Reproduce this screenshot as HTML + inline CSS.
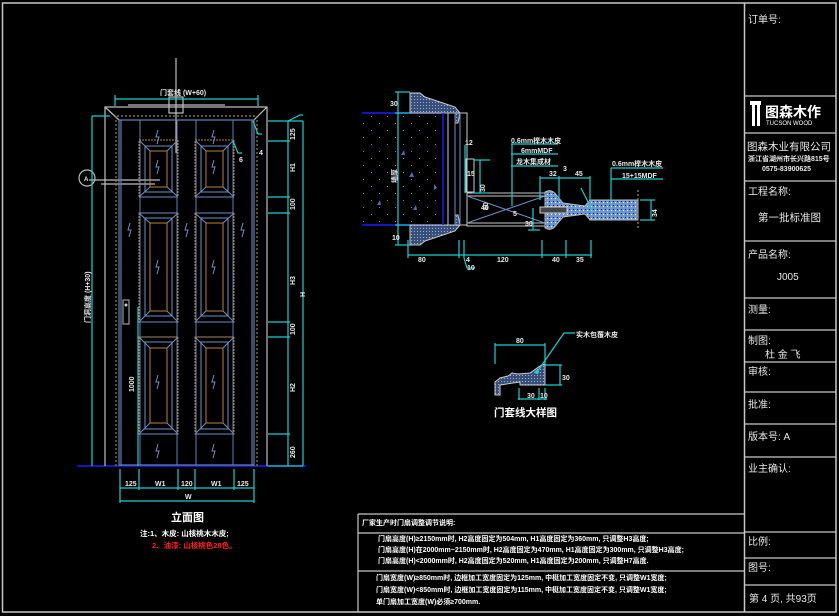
<!DOCTYPE html>
<html><head><meta charset="utf-8"><style>
html,body{margin:0;padding:0;background:#000;}
svg{display:block;}
text{font-family:"Liberation Sans","Noto Sans CJK SC","WenQuanYi Zen Hei",sans-serif;}
</style></head><body>
<svg width="839" height="616" viewBox="0 0 839 616" xmlns="http://www.w3.org/2000/svg">
<rect width="839" height="616" fill="#000"/>
<defs>
<pattern id="dots" width="16" height="14" patternUnits="userSpaceOnUse"><rect x="3" y="4" width="1" height="1" fill="#6a8fd0"/><rect x="11" y="11" width="1" height="1" fill="#6a8fd0"/></pattern>
<pattern id="hatch" width="3" height="3" patternUnits="userSpaceOnUse"><rect width="3" height="3" fill="#3a4f78"/><rect width="1" height="1" fill="#8fb0e0"/></pattern>
<pattern id="speck" width="4" height="4" patternUnits="userSpaceOnUse"><rect width="4" height="4" fill="#6c95d6"/><rect x="1" y="1" width="1" height="1" fill="#123"/><rect x="3" y="2" width="1" height="1" fill="#fff"/></pattern>
</defs>
<rect x="2.5" y="3" width="833.5" height="609" fill="none" stroke="#c8c8c8" stroke-width="1.5"/>
<line x1="744.5" y1="3" x2="744.5" y2="612" stroke="#c8c8c8" stroke-width="1.5"/>
<g stroke="#c8c8c8" stroke-width="1.2">
<line x1="745" y1="96" x2="836" y2="96"/><line x1="745" y1="133" x2="836" y2="133"/>
<line x1="745" y1="181" x2="836" y2="181"/><line x1="745" y1="241" x2="836" y2="241"/>
<line x1="745" y1="298" x2="836" y2="298"/><line x1="745" y1="330" x2="836" y2="330"/>
<line x1="745" y1="362" x2="836" y2="362"/><line x1="745" y1="392" x2="836" y2="392"/>
<line x1="745" y1="424" x2="836" y2="424"/><line x1="745" y1="457" x2="836" y2="457"/>
<line x1="745" y1="532" x2="836" y2="532"/><line x1="745" y1="558" x2="836" y2="558"/>
<line x1="745" y1="585" x2="836" y2="585"/>
</g>
<g fill="#e8e8e8" font-size="10">
<text x="748" y="23">订单号:</text>
<text x="747" y="150" font-size="10.5">图森木业有限公司</text>
<text x="748" y="161" font-size="7" font-weight="bold">浙江省湖州市长兴路815号</text>
<text x="762" y="171" font-size="7" font-weight="bold">0575-83900625</text>
<text x="748" y="195">工程名称:</text>
<text x="758" y="221" font-size="10.5">第一批标准图</text>
<text x="748" y="258">产品名称:</text>
<text x="777" y="280">J005</text>
<text x="748" y="313">测量:</text>
<text x="748" y="344">制图:</text>
<text x="765" y="358">杜 金 飞</text>
<text x="748" y="375">审核:</text>
<text x="748" y="408">批准:</text>
<text x="748" y="440">版本号: A</text>
<text x="748" y="472">业主确认:</text>
<text x="748" y="545">比例:</text>
<text x="748" y="571">图号:</text>
<text x="749" y="602">第 4 页, 共93页</text>
</g>
<rect x="750" y="101" width="11" height="4" fill="#fff"/><rect x="752" y="104" width="3" height="22" fill="#fff"/><rect x="757" y="104" width="3" height="22" fill="#fff"/>
<text x="765" y="117" font-size="14" font-weight="bold" fill="#fff">图森木作</text>
<text x="766" y="125" font-size="6" fill="#fff">TUCSON WOOD</text>

<g stroke="#c8c8c8" stroke-width="1.2" fill="none">
<line x1="358" y1="514" x2="745" y2="514"/><line x1="358" y1="533" x2="745" y2="533"/>
<line x1="358" y1="571" x2="745" y2="571"/><line x1="358" y1="514" x2="358" y2="612"/>
</g>
<g fill="#fff" font-size="7" font-weight="bold">
<text x="362" y="525">厂家生产时门扇调整调节说明:</text>
<text x="378" y="541">门扇高度(H)≥2150mm时, H2高度固定为504mm, H1高度固定为360mm, 只调整H3高度;</text>
<text x="378" y="552">门扇高度(H)在2000mm~2150mm时, H2高度固定为470mm, H1高度固定为300mm, 只调整H3高度;</text>
<text x="378" y="563">门扇高度(H)&lt;2000mm时, H2高度固定为520mm, H1高度固定为200mm, 只调整H7高度.</text>
<text x="376" y="580">门扇宽度(W)≥850mm时, 边框加工宽度固定为125mm, 中梃加工宽度固定不变, 只调整W1宽度;</text>
<text x="376" y="592">门扇宽度(W)&lt;850mm时, 边框加工宽度固定为115mm, 中梃加工宽度固定不变, 只调整W1宽度;</text>
<text x="376" y="604">单门扇加工宽度(W)必须≥700mm.</text>
</g>

<line x1="77" y1="466" x2="306" y2="466" stroke="#1a1aff" stroke-width="1.5"/>
<g stroke="#bdbdbd" stroke-width="1.2" fill="none">
<polyline points="105,466 105,107 267,107 267,466"/>
<line x1="105" y1="107" x2="119" y2="120"/><line x1="267" y1="107" x2="254" y2="120"/>
<line x1="128" y1="105" x2="225" y2="105"/>
<line x1="89" y1="180" x2="160" y2="180"/><line x1="101" y1="184" x2="155" y2="184"/>
<line x1="176" y1="58" x2="176" y2="153"/>
<rect x="169" y="97" width="14" height="16"/>
<circle cx="87" cy="178" r="8"/>
</g>
<line x1="116" y1="116" x2="116" y2="466" stroke="#9a8a20" stroke-width="1.2" stroke-dasharray="2,2"/>
<line x1="257" y1="116" x2="257" y2="466" stroke="#9a8a20" stroke-width="1.2" stroke-dasharray="2,2"/>
<line x1="117" y1="116" x2="256" y2="116" stroke="#9a8a20" stroke-width="1.2" stroke-dasharray="2,2"/>
<g stroke="#5f7fb4" stroke-width="1.2" fill="none">
<polyline points="119,466 119,120 254,120 254,466"/>
<line x1="121" y1="466" x2="121" y2="120"/><line x1="252" y1="466" x2="252" y2="120"/>
<line x1="119" y1="465" x2="254" y2="465"/>
</g>
<g id="col">
<g fill="none" stroke-width="1">
<line x1="140" y1="120" x2="140" y2="465" stroke="#5f7fb4"/><line x1="177" y1="120" x2="177" y2="465" stroke="#5f7fb4"/>
<rect x="139" y="140" width="39" height="57" stroke="#b8823c" stroke-dasharray="2,1"/>
<rect x="150" y="151" width="17" height="36" stroke="#b8823c"/>
<rect x="145" y="146" width="27" height="46" stroke="#6d8fc4"/>
<path d="M140,141 L150,151 M177,141 L167,151 M140,196 L150,187 M177,196 L167,187" stroke="#6d8fc4"/>
<rect x="139" y="213" width="39" height="109" stroke="#b8823c" stroke-dasharray="2,1"/>
<rect x="150" y="223" width="17" height="88" stroke="#b8823c"/>
<rect x="145" y="218" width="27" height="98" stroke="#6d8fc4"/>
<path d="M140,214 L150,223 M177,214 L167,223 M140,321 L150,311 M177,321 L167,311" stroke="#6d8fc4"/>
<path d="M139,197 L178,197 M139,213 L178,213 M139,322 L178,322 M139,337 L178,337" stroke="#6d8fc4"/>
<rect x="139" y="337" width="39" height="97" stroke="#b8823c" stroke-dasharray="2,1"/>
<rect x="150" y="348" width="17" height="75" stroke="#b8823c"/>
<rect x="145" y="342" width="27" height="87" stroke="#6d8fc4"/>
<path d="M140,338 L150,348 M177,338 L167,348 M140,433 L150,423 M177,433 L167,423 M139,434 L178,434" stroke="#6d8fc4"/>
<path d="M158,130 l-2,7 3,0 -2,7 M158,160 l-2,7 3,0 -2,7 M158,260 l-2,7 3,0 -2,7 M158,375 l-2,7 3,0 -2,7 M158,444 l-2,7 3,0 -2,7" stroke="#6d8fc4"/>
</g>
</g>
<use href="#col" x="56"/>
<path d="M130,223 l-2,7 3,0 -2,7 M187,223 l-2,7 3,0 -2,7 M243,223 l-2,7 3,0 -2,7" stroke="#6d8fc4" fill="none"/>
<rect x="123" y="300" width="6" height="24" fill="none" stroke="#999" stroke-width="1.2"/>
<circle cx="126" cy="305" r="1.5" fill="#ccc"/>
<g stroke="#1ad0d0" stroke-width="1.2" fill="none">
<line x1="115" y1="99" x2="258" y2="99"/><line x1="115" y1="95" x2="115" y2="106"/><line x1="258" y1="95" x2="258" y2="106"/>
<line x1="92" y1="116" x2="92" y2="466"/><line x1="92" y1="116" x2="110" y2="116"/>
<line x1="288" y1="121" x2="288" y2="466"/><line x1="303" y1="121" x2="303" y2="466"/>
<line x1="268" y1="121" x2="303" y2="121"/><line x1="268" y1="141" x2="290" y2="141"/>
<line x1="268" y1="197" x2="290" y2="197"/><line x1="268" y1="213" x2="290" y2="213"/>
<line x1="268" y1="322" x2="290" y2="322"/><line x1="268" y1="337" x2="290" y2="337"/>
<line x1="268" y1="434" x2="290" y2="434"/><line x1="268" y1="466" x2="303" y2="466"/>
<polyline points="288,121 300,115 303,115"/>
<line x1="138" y1="307" x2="138" y2="466"/>
<polyline points="253,121 258,134 262,134"/><polyline points="233,141 238,153 242,153"/>
<line x1="120" y1="488" x2="254" y2="488"/><line x1="120" y1="501" x2="254" y2="501"/>
<path d="M120,469 V503 M139,469 V490 M178,469 V490 M195,469 V490 M234,469 V490 M254,469 V503"/>
</g>
<g fill="#e8e8e8" font-size="7" font-weight="bold">
<text x="160" y="95">门套线 (W+60)</text>
<text x="125" y="486">125</text><text x="155" y="486">W1</text><text x="181" y="486">120</text><text x="211" y="486">W1</text><text x="237" y="486">125</text>
<text x="185" y="499">W</text>
<text x="259" y="155">4</text><text x="239" y="162">6</text>
<text x="84" y="181" font-size="6">A</text>
<g transform="rotate(-90)">
<text x="-140" y="295">125</text><text x="-172" y="295">H1</text><text x="-210" y="295">100</text>
<text x="-285" y="295">H3</text><text x="-335" y="295">100</text><text x="-392" y="295">H2</text><text x="-458" y="295">260</text>
<text x="-297" y="305">H</text><text x="-323" y="90">门洞高度 (H+30)</text><text x="-392" y="134">1000</text>
</g>
</g>
<text x="171" y="521" font-size="11" font-weight="bold" fill="#fff">立面图</text>
<text x="140" y="536" font-size="7.5" font-weight="bold" fill="#fff">注:1、木皮: 山核桃木木皮;</text>
<text x="152" y="548" font-size="7.5" font-weight="bold" fill="#ff2020">2、油漆: 山核桃色28色。</text>

<rect x="362" y="113" width="81" height="112" fill="url(#dots)"/>
<g fill="#4d6fb0"><path d="M404,150 l-3,5 4,0z"/><path d="M412,172 l-3,5 5,0z"/><path d="M437,188 l-3,-4 0,6z"/><path d="M416,205 l-3,5 4,0z"/><path d="M380,200 l-3,5 4,0z"/></g>
<line x1="362" y1="113" x2="443" y2="113" stroke="#1a1aff" stroke-width="1.5"/>
<line x1="362" y1="225" x2="443" y2="225" stroke="#1a1aff" stroke-width="1.5"/>
<path d="M410,93 L420,93 L425,97 L440,102 L455,107 L460,113 L458,123 L455,123 L455,113 L410,113Z" fill="url(#hatch)" stroke="#ccc" stroke-width="1"/>
<path d="M410,245 L420,245 L425,241 L440,236 L455,231 L460,225 L458,215 L455,215 L455,225 L410,225Z" fill="url(#hatch)" stroke="#ccc" stroke-width="1"/>
<g stroke="#c8c8c8" fill="none" stroke-width="1">
<rect x="443" y="113" width="24" height="112"/><line x1="448" y1="113" x2="448" y2="225"/>
<line x1="455" y1="113" x2="455" y2="225" stroke="#6d8fc4"/><line x1="460" y1="113" x2="460" y2="225" stroke="#6d8fc4"/>
<rect x="466" y="159" width="8" height="33"/>
<rect x="467" y="193" width="78" height="33"/><line x1="467" y1="196" x2="545" y2="196"/><line x1="467" y1="223" x2="545" y2="223"/>
<line x1="467" y1="196" x2="545" y2="223" stroke="#6d8fc4"/><line x1="467" y1="223" x2="545" y2="196" stroke="#6d8fc4"/>
</g>
<line x1="443" y1="113" x2="443" y2="225" stroke="#1a1aff" stroke-width="1.5"/>
<path d="M545,192 Q552,188 557,196 L563,203 L585,206 L590,200 L638,200 L638,220 L590,220 L585,214 L563,217 L557,224 Q552,232 545,228Z" fill="url(#speck)" stroke="#bbb" stroke-width="1"/>
<rect x="540" y="207" width="27" height="6" fill="#444" stroke="#ccc" stroke-width="1"/>
<line x1="638" y1="190" x2="638" y2="230" stroke="#aa9a20" stroke-dasharray="2,2" stroke-width="1.2"/>
<g stroke="#1ad0d0" stroke-width="1.2" fill="none">
<line x1="398" y1="92" x2="398" y2="245"/><line x1="395" y1="92" x2="410" y2="92"/><line x1="395" y1="245" x2="410" y2="245"/>
<line x1="395" y1="113" x2="410" y2="113"/><line x1="395" y1="225" x2="410" y2="225"/>
<line x1="408" y1="255" x2="592" y2="255"/>
<path d="M408,240 V258 M459,240 V258 M464,240 V258 M542,240 V258 M566,240 V258 M591,240 V258"/>
<polyline points="464,258 467,268 475,268"/>
<line x1="465" y1="145" x2="465" y2="193"/><line x1="480" y1="160" x2="480" y2="193"/><line x1="474" y1="160" x2="490" y2="160"/>
<line x1="472" y1="193" x2="488" y2="193"/>
<line x1="511" y1="144" x2="558" y2="144"/><line x1="511" y1="154" x2="558" y2="154"/><line x1="511" y1="166" x2="558" y2="166"/>
<line x1="512" y1="144" x2="512" y2="206"/>
<line x1="540" y1="178" x2="590" y2="178"/><line x1="540" y1="176" x2="540" y2="200"/><line x1="590" y1="176" x2="590" y2="200"/><line x1="559" y1="176" x2="559" y2="200"/>
<line x1="581" y1="188" x2="593" y2="212"/>
<line x1="611" y1="168" x2="663" y2="168"/><line x1="611" y1="179" x2="663" y2="179"/><line x1="611" y1="168" x2="611" y2="202"/>
<line x1="640" y1="200" x2="655" y2="200"/><line x1="640" y1="220" x2="655" y2="220"/><line x1="651" y1="200" x2="651" y2="220"/>
<line x1="533" y1="208" x2="533" y2="230"/><line x1="528" y1="230" x2="540" y2="230"/>
</g>
<g fill="#e8e8e8" font-size="7" font-weight="bold">
<text x="390" y="106">30</text><text x="392" y="240">10</text>
<text x="418" y="262">80</text><text x="466" y="262">4</text><text x="497" y="262">120</text><text x="552" y="262">40</text><text x="576" y="262">35</text>
<text x="467" y="270">10</text>
<text x="465" y="145">12</text><text x="467" y="176">15</text>
<text x="511" y="143">0.6mm榉木木皮</text><text x="521" y="153">6mmMDF</text><text x="516" y="164">龙木集成材</text>
<text x="549" y="176">32</text><text x="563" y="171">3</text><text x="575" y="176">45</text>
<text x="612" y="166">0.6mm榉木木皮</text><text x="622" y="178">15+15MDF</text>
<text x="481" y="210">40</text><text x="513" y="216">5</text><text x="525" y="226">30</text>
<g transform="rotate(-90)"><text x="-183" y="397">墙厚</text><text x="-217" y="657">34</text><text x="-192" y="485">30</text><text x="-210" y="488">60</text></g>
</g>

<path d="M495,382 L500,378 L508,376 L512,373 L518,374 L530,373 L540,366 L545,364 L545,385 L520,385 L520,382 L500,385 L500,395 L495,395Z" fill="url(#hatch)" stroke="#ccc" stroke-width="1"/>
<g stroke="#1ad0d0" stroke-width="1.2" fill="none">
<line x1="495" y1="345" x2="545" y2="345"/><line x1="495" y1="343" x2="495" y2="364"/><line x1="545" y1="343" x2="545" y2="364"/>
<line x1="545" y1="365" x2="562" y2="365"/><line x1="545" y1="385" x2="562" y2="385"/><line x1="560" y1="365" x2="560" y2="385"/>
<line x1="519" y1="388" x2="519" y2="400"/><line x1="539" y1="388" x2="539" y2="400"/><line x1="545" y1="388" x2="545" y2="400"/>
<line x1="518" y1="399" x2="547" y2="399"/>
<polyline points="537,372 564,333 575,333"/>
</g>
<circle cx="537" cy="372" r="2" fill="#1ad0d0"/>
<g fill="#e8e8e8" font-size="7" font-weight="bold">
<text x="516" y="343">80</text><text x="562" y="380">30</text><text x="527" y="398">30</text><text x="540" y="398">10</text>
<text x="576" y="337">实木包覆木皮</text>
</g>
<text x="494" y="416" font-size="10.5" font-weight="bold" fill="#fff">门套线大样图</text>
</svg>
</body></html>
